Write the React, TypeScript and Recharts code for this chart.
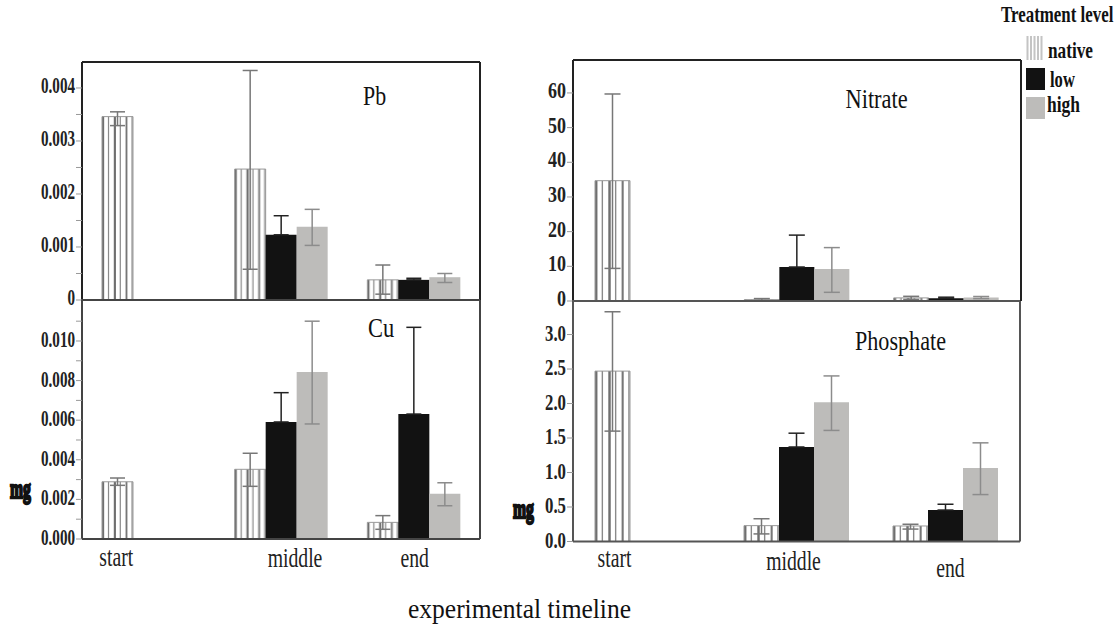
import { BarChart, Bar, ErrorBar, XAxis, YAxis } from 'recharts';

const categories = ['start', 'middle', 'end'];
type Err = [number, number] | null;

// Pb
const pbNative = [0.00346, 0.00247, 0.00038];
const pbLow = [null, 0.00123, 0.00038];
const pbHigh = [null, 0.00138, 0.00043];
const pbNativeErr: Err[] = [[0.00017, 0.00009], [0.00189, 0.00186], [0.00027, 0.00028]];
const pbLowErr: Err[] = [null, [0, 0.00036], [0, 0.00003]];
const pbHighErr: Err[] = [null, [0.00035, 0.00033], [0.0001, 0.00007]];
const pbTicks = [0, 0.0005, 0.001, 0.0015, 0.002, 0.0025, 0.003, 0.0035, 0.004];
const pbTickLabels = ['0', '', '0.001', '', '0.002', '', '0.003', '', '0.004'];

// Cu
const cuNative = [0.00289, 0.00352, 0.00084];
const cuLow = [null, 0.00591, 0.00631];
const cuHigh = [null, 0.00843, 0.00229];
const cuNativeErr: Err[] = [[0.00018, 0.00019], [0.00086, 0.00081], [0.00035, 0.00034]];
const cuLowErr: Err[] = [null, [0, 0.00148], [0, 0.00438]];
const cuHighErr: Err[] = [null, [0.00262, 0.00257], [0.00061, 0.00055]];
const cuTicks = [0, 0.001, 0.002, 0.003, 0.004, 0.005, 0.006, 0.007, 0.008, 0.009, 0.01, 0.011];
const cuTickLabels = ['0.000', '', '0.002', '', '0.004', '', '0.006', '', '0.008', '', '0.010', ''];

// Nitrate
const nitrateNative = [34.7, 0.4, 0.9];
const nitrateLow = [null, 9.8, 0.8];
const nitrateHigh = [null, 9.2, 1.0];
const nitrateNativeErr: Err[] = [[25.3, 25.0], [0.3, 0.3], [0.45, 0.45]];
const nitrateLowErr: Err[] = [null, [0, 9.2], [0, 0.3]];
const nitrateHighErr: Err[] = [null, [6.7, 6.2], [0.3, 0.3]];
const nitrateTicks = [0, 10, 20, 30, 40, 50, 60];
const nitrateTickLabels = ['0', '10', '20', '30', '40', '50', '60'];

// Phosphate
const phosphateNative = [2.47, 0.23, 0.225];
const phosphateLow = [null, 1.37, 0.456];
const phosphateHigh = [null, 2.02, 1.065];
const phosphateNativeErr: Err[] = [[0.87, 0.86], [0.12, 0.1], [0.045, 0.025]];
const phosphateLowErr: Err[] = [null, [0, 0.2], [0, 0.084]];
const phosphateHighErr: Err[] = [null, [0.41, 0.38], [0.385, 0.365]];
const phosphateTicks = [0, 0.5, 1, 1.5, 2, 2.5, 3];
const phosphateTickLabels = ['0.0', '0.5', '1.0', '1.5', '2.0', '2.5', '3.0'];

const serif = '"Liberation Serif", serif';

const buildRows = (native: any[], low: any[], high: any[], nErr: Err[], lErr: Err[], hErr: Err[]) =>
  categories.map((name, i) => ({
    name,
    native: native[i],
    low: low[i],
    high: high[i],
    nativeErr: nErr[i],
    lowErr: lErr[i],
    highErr: hErr[i],
  }));

function Panel(props: any) {
  const { id, rows, left, top, yWidth, plotW, plotH, max, ticks, tickLabels, tickScale, labelDy, gap, capW, axisColor, xOffsets } = props;
  const axisH = xOffsets ? 45 : 1;
  const bottom = xOffsets ? 0 : 12;

  const yTick = (t: any) => {
    const label = tickLabels[ticks.indexOf(t.payload.value)];
    if (!label) return <g />;
    return (
      <text
        transform={`translate(${t.x},${t.y + labelDy}) scale(${tickScale},1)`}
        textAnchor="end"
        fontFamily={serif}
        fontWeight="bold"
        fontSize={24}
        fill="#222"
      >
        {label}
      </text>
    );
  };

  const xTick = (t: any) => {
    const [dx, dy] = xOffsets[categories.indexOf(t.payload.value)];
    return (
      <text
        transform={`translate(${t.x + dx},${t.y + dy}) scale(0.73,1)`}
        textAnchor="middle"
        fontFamily={serif}
        fontSize={27}
        fill="#222"
      >
        {t.payload.value}
      </text>
    );
  };

  return (
    <div style={{ position: 'absolute', left, top: top - 4 }}>
      <BarChart
        width={yWidth + plotW + 4}
        height={4 + plotH + axisH + bottom}
        data={rows}
        barGap={0}
        barCategoryGap={gap}
        margin={{ top: 3, right: 3, left: 0, bottom }}
      >
        <defs>
          <pattern id={`hatch-${id}`} patternUnits="objectBoundingBox" patternContentUnits="objectBoundingBox" width={1} height={1}>
            <rect x={0} y={0} width={0.07} height={1} fill="#6f6f6f" />
            <rect x={0.19} y={0} width={0.04} height={1} fill="#8a8a8a" />
            <rect x={0.38} y={0} width={0.07} height={1} fill="#6f6f6f" />
            <rect x={0.57} y={0} width={0.04} height={1} fill="#8a8a8a" />
            <rect x={0.76} y={0} width={0.06} height={1} fill="#777" />
            <rect x={0.95} y={0} width={0.04} height={1} fill="#8a8a8a" />
          </pattern>
        </defs>
        <XAxis
          dataKey="name"
          height={axisH}
          tick={xOffsets ? xTick : false}
          tickLine={false}
          tickSize={0}
          tickMargin={0}
          interval={0}
          axisLine={{ stroke: axisColor, strokeWidth: 2 }}
        />
        <XAxis xAxisId="frame" orientation="top" dataKey="name" height={1} tick={false} tickLine={false} axisLine={{ stroke: axisColor, strokeWidth: 2 }} />
        <YAxis
          width={yWidth}
          domain={[0, max]}
          ticks={ticks}
          interval={0}
          allowDataOverflow
          tick={yTick}
          tickSize={6}
          tickMargin={1}
          tickLine={{ stroke: '#999' }}
          axisLine={{ stroke: axisColor, strokeWidth: 2 }}
        />
        <YAxis yAxisId="frame" orientation="right" width={1} domain={[0, max]} tick={false} tickLine={false} axisLine={{ stroke: axisColor, strokeWidth: 2 }} />
        <Bar dataKey="native" fill={`url(#hatch-${id})`} stroke="#999" strokeWidth={1} isAnimationActive={false}>
          <ErrorBar dataKey="nativeErr" width={capW} stroke="#777" strokeWidth={1.5} isAnimationActive={false} />
        </Bar>
        <Bar dataKey="low" fill="#121212" isAnimationActive={false}>
          <ErrorBar dataKey="lowErr" width={capW} stroke="#222" strokeWidth={1.5} isAnimationActive={false} />
        </Bar>
        <Bar dataKey="high" fill="#bdbcba" isAnimationActive={false}>
          <ErrorBar dataKey="highErr" width={capW} stroke="#8c8c8c" strokeWidth={1.5} isAnimationActive={false} />
        </Bar>
      </BarChart>
    </div>
  );
}

function Squeezed({ x, y, sx = 1, size = 27, bold = false, outline = 0, children }: any) {
  return (
    <text
      transform={`translate(${x},${y}) scale(${sx},1)`}
      fontFamily={serif}
      fontSize={size}
      fontWeight={bold ? 'bold' : 'normal'}
      fill="#111"
      stroke={outline ? '#111' : 'none'}
      strokeWidth={outline}
    >
      {children}
    </text>
  );
}

const legendHatch = [1026.5, 1030, 1033.5, 1037, 1040.5];

export default function App() {
  return (
    <div style={{ position: 'absolute', left: 0, top: 0, width: 1118, height: 628, background: '#fff', overflow: 'hidden' }}>
      <Panel
        id="pb"
        rows={buildRows(pbNative, pbLow, pbHigh, pbNativeErr, pbLowErr, pbHighErr)}
        left={0} top={62} yWidth={82} plotW={398} plotH={238}
        max={0.00449} ticks={pbTicks} tickLabels={pbTickLabels} tickScale={0.63} labelDy={5}
        gap={20} capW={7.5} axisColor="#222"
      />
      <Panel
        id="cu"
        rows={buildRows(cuNative, cuLow, cuHigh, cuNativeErr, cuLowErr, cuHighErr)}
        left={0} top={300} yWidth={82} plotW={398} plotH={239}
        max={0.01207} ticks={cuTicks} tickLabels={cuTickLabels} tickScale={0.63} labelDy={6}
        gap={20} capW={7.5} axisColor="#444"
        xOffsets={[[-32, 27], [14, 28], [1, 28]]}
      />
      <Panel
        id="nitrate"
        rows={buildRows(nitrateNative, nitrateLow, nitrateHigh, nitrateNativeErr, nitrateLowErr, nitrateHighErr)}
        left={490} top={60} yWidth={83} plotW={448} plotH={241}
        max={69.5} ticks={nitrateTicks} tickLabels={nitrateTickLabels} tickScale={0.75} labelDy={5}
        gap={22} capW={8} axisColor="#222"
      />
      <Panel
        id="phosphate"
        rows={buildRows(phosphateNative, phosphateLow, phosphateHigh, phosphateNativeErr, phosphateLowErr, phosphateHighErr)}
        left={490} top={301} yWidth={83} plotW={447} plotH={240.5}
        max={3.486} ticks={phosphateTicks} tickLabels={phosphateTickLabels} tickScale={0.7} labelDy={6}
        gap={22} capW={8} axisColor="#555"
        xOffsets={[[-33, 25.5], [-3, 28.5], [5, 35]]}
      />
      <svg width={1118} height={628} style={{ position: 'absolute', left: 0, top: 0, pointerEvents: 'none' }}>
        <Squeezed x={363} y={105} sx={0.81}>Pb</Squeezed>
        <Squeezed x={368} y={337} sx={0.83}>Cu</Squeezed>
        <Squeezed x={845.5} y={108} sx={0.83}>Nitrate</Squeezed>
        <Squeezed x={855} y={350} sx={0.82}>Phosphate</Squeezed>
        <Squeezed x={408} y={618} sx={0.945}>experimental timeline</Squeezed>

        <Squeezed x={1001} y={22} size={23} sx={0.735} bold>Treatment level</Squeezed>
        <Squeezed x={1048} y={58} size={23} sx={0.75} bold>native</Squeezed>
        <Squeezed x={1050} y={87} size={23} sx={0.72} bold>low</Squeezed>
        <Squeezed x={1047} y={112} size={23} sx={0.76} bold>high</Squeezed>
        {legendHatch.map(x => (
          <rect key={x} x={x} y={36} width={2} height={24} fill="#c4c4c4" />
        ))}
        <rect x={1026} y={68} width={19} height={22} fill="#121212" />
        <rect x={1026} y={97} width={19} height={22} fill="#bdbcba" />

        {/* overprinted unit label, an illegible blob in the source */}
        <Squeezed x={10} y={498} size={28} sx={0.56} bold outline={2.4}>mg</Squeezed>
        <Squeezed x={513} y={518} size={28} sx={0.56} bold outline={2.4}>mg</Squeezed>
      </svg>
    </div>
  );
}
